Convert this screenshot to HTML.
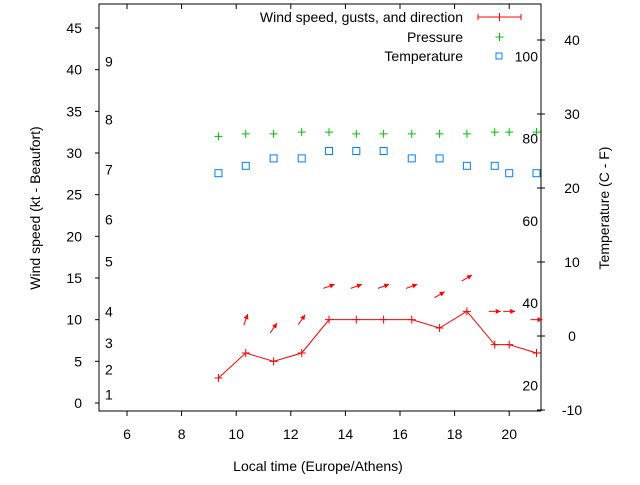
<!DOCTYPE html>
<html><head><meta charset="utf-8"><style>
body{margin:0;background:#fff}
svg{font-family:"Liberation Sans",sans-serif;font-size:14px}
</style></head><body>
<svg id="chart" width="640" height="480" viewBox="0 0 640 480" xmlns="http://www.w3.org/2000/svg">
<g id="axes"></g>
<g id="marks"></g>
<g id="legend"></g>
</svg>
<script>
const times = [9.35, 10.35, 11.37, 12.4, 13.4, 14.4, 15.4, 16.43, 17.45, 18.45, 19.47, 20.0, 21.0];
const windKt = [3, 6, 5, 6, 10, 10, 10, 10, 9, 11, 7, 7, 6];
const gustKt = [null, 10, 9, 10, 14, 14, 14, 14, 13, 15, 11, 11, 10];
const windDirDeg = [0, 70, 55, 55, 20, 20, 20, 20, 30, 30, 0, 0, 0];
const pressureHpa = [1012.0, 1012.3, 1012.3, 1012.5, 1012.5, 1012.3, 1012.3, 1012.3, 1012.3, 1012.3, 1012.5, 1012.5, 1012.5];
const tempC = [22, 23, 24, 24, 25, 25, 25, 24, 24, 23, 23, 22, 22];
const xTicks = [6, 8, 10, 12, 14, 16, 18, 20];
const yTicks = [0, 5, 10, 15, 20, 25, 30, 35, 40, 45];
const y2Ticks = [-10, 0, 10, 20, 30, 40];
const beaufortLabels = ["1","2","3","4","5","6","7","8","9"];
const beaufortKt = [1, 4, 7.2, 11, 17, 22, 28, 34, 41];
const fahrLabels = ["20","40","60","80","100"];
const fahrVals = [20, 40, 60, 80, 100];

const L=99,R=541,T=4,B=411;
const X = h => 127 + (h-6)*27.3;
const Y = k => 403 - k*8.333;
const Y2 = c => 336 - c*7.4;
const P = hpa => Y(hpa-980);
const NS="http://www.w3.org/2000/svg";
function mk(parent,tag,attrs,text){const e=document.createElementNS(NS,tag);for(const k in attrs)e.setAttribute(k,attrs[k]);if(text!==undefined)e.textContent=text;parent.appendChild(e);return e;}
const ax=document.getElementById('axes'), mg=document.getElementById('marks'), lg=document.getElementById('legend');

let e=mk(ax,'rect',{x:L,y:T,width:R-L,height:B-T,fill:'none',stroke:'#000','stroke-width':1});


xTicks.forEach(t=>{const x=X(t);
 let a=mk(ax,'line',{x1:x,x2:x,y1:B,y2:B+5,stroke:'#000'});
 
 
 let b=mk(ax,'line',{x1:x,x2:x,y1:T,y2:T+5,stroke:'#000'});
 
 
 let c=mk(ax,'text',{x:x,y:439,'text-anchor':'middle'},String(t));
 
 
});
yTicks.forEach(t=>{const y=Y(t);
 let a=mk(ax,'line',{x1:L-4,x2:L,y1:y,y2:y,stroke:'#000'});
 
 
 let c=mk(ax,'text',{x:82,y:y+5,'text-anchor':'end'},String(t));
 
 
});
y2Ticks.forEach(t=>{const y=Y2(t);
 let a=mk(ax,'line',{x1:R-4,x2:R+4,y1:y,y2:y,stroke:'#000'});
 
 
 let c=mk(ax,'text',{x:572,y:y+5,'text-anchor':'middle'},String(t));
 
 
});
beaufortLabels.forEach((s,i)=>{
 let c=mk(ax,'text',{x:105,y:Y(beaufortKt[i])+5},s);
 
 
});
fahrLabels.forEach((s,i)=>{
 const c2=(fahrVals[i]-32)*5/9;
 let c=mk(ax,'text',{x:538,y:Y2(c2)+5,'text-anchor':'end'},s);
 
 
});
e=mk(ax,'text',{x:318,y:471,'text-anchor':'middle'},'Local time (Europe/Athens)');


e=mk(ax,'text',{x:0,y:0,'text-anchor':'middle',transform:'translate(40,208) rotate(-90)'},'Wind speed (kt - Beaufort)');


e=mk(ax,'text',{x:0,y:0,'text-anchor':'middle',transform:'translate(609,208) rotate(-90)'},'Temperature (C - F)');



function plus(g,x,y,col,name){
 let p=mk(g,'path',{d:`M${x-4} ${y}H${x+4}M${x} ${y-4}V${y+4}`,stroke:col,'stroke-width':1,fill:'none'});
 
 
}
// wind line
let pts=times.map((t,i)=>X(t)+','+Y(windKt[i])).join(' ');
e=mk(mg,'polyline',{points:pts,fill:'none',stroke:'#f00','stroke-width':1});


times.forEach((t,i)=>plus(mg,X(t),Y(windKt[i]),'#f00','wind-point'));
// gust arrows
times.forEach((t,i)=>{
 if(gustKt[i]===null)return;
 const cx=X(t), cy=Y(gustKt[i]), a=windDirDeg[i]*Math.PI/180, len=12;
 const dx=Math.cos(a)*len/2, dy=-Math.sin(a)*len/2;
 const x1=cx-dx,y1=cy-dy,x2=cx+dx,y2=cy+dy;
 const hx=Math.cos(a), hy=-Math.sin(a), px=-hy, py=hx;
 const g=mk(mg,'g',{});
 
 
 mk(g,'line',{x1:x1,y1:y1,x2:x2,y2:y2,stroke:'#f00'});
 mk(g,'polygon',{points:`${x2},${y2} ${x2-hx*5+px*2.5},${y2-hy*5+py*2.5} ${x2-hx*5-px*2.5},${y2-hy*5-py*2.5}`,fill:'#f00'});
});
times.forEach((t,i)=>plus(mg,X(t),P(pressureHpa[i]),'#00c000','pressure-point'));
times.forEach((t,i)=>{
 let r=mk(mg,'rect',{x:X(t)-3.5,y:Y2(tempC[i])-3.5,width:7,height:7,fill:'none',stroke:'#0080ff','stroke-width':1});
 
 
});
// legend
e=mk(lg,'text',{x:463,y:22,'text-anchor':'end'},'Wind speed, gusts, and direction');


e=mk(lg,'path',{d:'M478 17H521M478 14V20M521 14V20M499.5 13V21',stroke:'#f00',fill:'none'});


e=mk(lg,'text',{x:463,y:42,'text-anchor':'end'},'Pressure');


plus(lg,499.5,37,'#00c000','legend-pressure-symbol');
e=mk(lg,'text',{x:463,y:61,'text-anchor':'end'},'Temperature');


e=mk(lg,'rect',{x:496,y:53,width:6,height:6,fill:'none',stroke:'#0080ff'});


</script>
</body></html>
